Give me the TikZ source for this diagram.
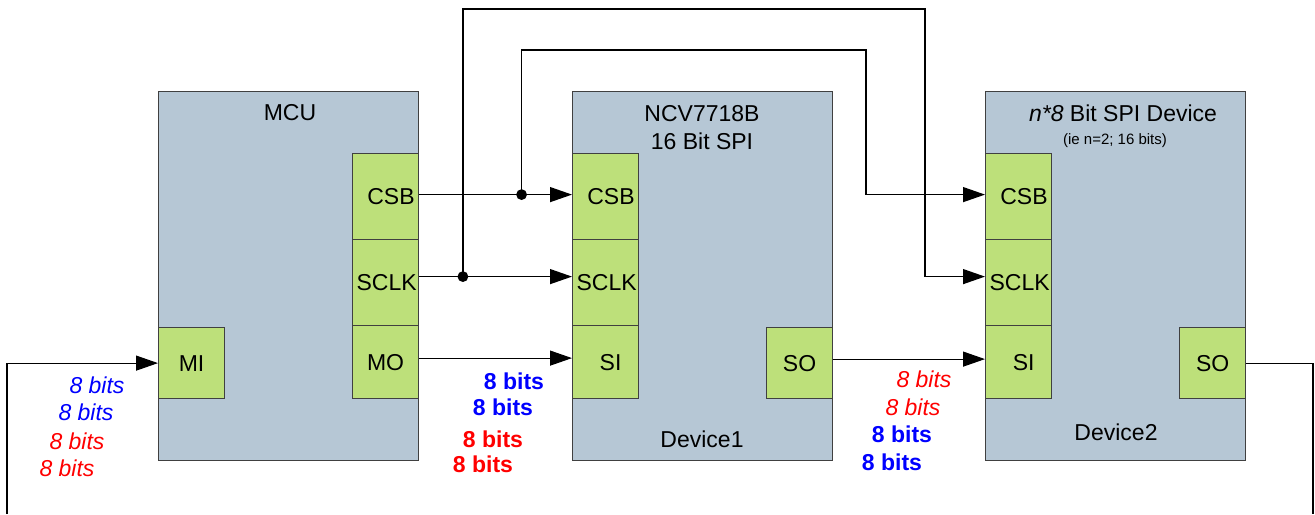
\documentclass[tikz,border=0pt]{standalone}
\usepackage{fontspec}
\setmainfont{Liberation Sans}
\usetikzlibrary{arrows.meta}

\definecolor{boxblue}{RGB}{182,199,213}
\definecolor{portgreen}{RGB}{189,224,122}
\definecolor{edgegray}{RGB}{64,64,64}

\begin{document}
\begin{tikzpicture}[x=0.5pt,y=-0.5pt,
    device/.style={draw=edgegray, fill=boxblue, line width=0.6pt, anchor=north west,
        inner sep=0pt, minimum width=130pt, minimum height=184.5pt},
    port/.style={draw=edgegray, fill=portgreen, line width=0.6pt, anchor=north west,
        inner sep=0pt, minimum width=33pt, font=\fontsize{11.5}{13}\selectfont},
    pinR/.style={text width=29pt, align=right},
    wire/.style={line width=0.6pt},
    arr/.style={wire, -{Triangle[length=11pt,width=7.5pt]}},
    lbl/.style={font=\fontsize{11.5}{14}\selectfont},
    bitsit/.style={font=\fontsize{11.5}{13}\selectfont\itshape},
    bitsbf/.style={font=\fontsize{11.5}{13}\selectfont\bfseries}]
    \useasboundingbox (0,0) rectangle (1315,514);

    % the three chips
    \node[device] (mcu)  at (158,91) {};
    \node[device] (dev1) at (572,91) {};
    \node[device] (dev2) at (985,91) {};

    % MCU pins
    \node[port, pinR, minimum height=43pt] (mcucsb)  at (352,153) {CSB};
    \node[port, pinR, minimum height=43pt] (mcusclk) at (352,239) {SCLK};
    \node[port, minimum height=36.5pt]     (mcumo)   at (352,325) {MO};
    \node[port, minimum height=35.5pt]     (mcumi)   at (158,327) {MI};

    % Device1 pins
    \node[port, pinR, minimum height=43pt] (d1csb)  at (572,153) {CSB};
    \node[port, pinR, minimum height=43pt] (d1sclk) at (572,239) {SCLK};
    \node[port, minimum height=36.5pt]     (d1si)   at (572,325) {\hspace*{5pt}SI};
    \node[port, minimum height=35.5pt]     (d1so)   at (766,327) {SO};

    % Device2 pins
    \node[port, pinR, minimum height=43pt] (d2csb)  at (985,153) {CSB};
    \node[port, pinR, minimum height=43pt] (d2sclk) at (985,239) {SCLK};
    \node[port, minimum height=36.5pt]     (d2si)   at (985,325) {\hspace*{5pt}SI};
    \node[port, minimum height=35.5pt]     (d2so)   at (1179,327) {SO};

    % chip titles
    \node[lbl] (mcuname) at (290,113) {MCU};
    \node[lbl, align=center] (d1name) at (702,128) {NCV7718B\\16 Bit SPI};
    \node[lbl] (d2name) at (1123,113) {\textit{n*8} Bit SPI Device};
    \node[font=\fontsize{7.5}{9}\selectfont] (d2note) at (1115,141) {(ie n=2; 16 bits)};
    \node[lbl] (d1tag) at (702,439) {Device1};
    \node[lbl] (d2tag) at (1116,432) {Device2};

    % MCU -> Device1
    \draw[arr] ([yshift=1pt]mcucsb.east) -- ([yshift=1pt]d1csb.west);
    \draw[arr] ([yshift=3pt]mcusclk.east) -- ([yshift=3pt]d1sclk.west);
    \draw[arr] ([yshift=2pt]mcumo.east) -- ([yshift=2pt]d1si.west);

    % branch points for the shared lines
    \path ([yshift=1pt]mcucsb.east) -- ([yshift=1pt]d1csb.west) coordinate[pos=0.67] (jcsb);
    \path ([yshift=3pt]mcusclk.east) -- ([yshift=3pt]d1sclk.west) coordinate[pos=0.286] (jsclk);
    \draw[arr] (jcsb) |- (866,50) |- ([yshift=1pt]d2csb.west);
    \draw[arr] (jsclk) |- (925,9) |- ([yshift=3pt]d2sclk.west);
    \foreach \p in {jcsb,jsclk}{
        \fill (\p) circle (2.7pt);
    }

    % Device1 -> Device2 (daisy chain)
    \draw[arr] ([yshift=2pt]d1so.east) -- ([yshift=2pt]d1so.east -| d2si.west);

    % return path back to the MCU
    \coordinate (retR) at (1313,514);
    \coordinate (retL) at (7,514);
    \draw[wire] (d2so.east) -| (retR);
    \draw[arr] (retL) |- (mcumi.west);

    % bit counts
    \foreach \x/\y/\c/\s [count=\i] in {97/385/blue/bitsit, 86/412/blue/bitsit,
        77/441/red/bitsit, 67/468/red/bitsit,
        514/381/blue/bitsbf, 503/407/blue/bitsbf, 493/439/red/bitsbf, 483/464/red/bitsbf,
        924/379/red/bitsit, 913/407/red/bitsit, 902/434/blue/bitsbf, 892/462/blue/bitsbf}{
        \node[\s, text=\c] (bits\i) at (\x,\y) {8 bits};
    }
\end{tikzpicture}
\end{document}
